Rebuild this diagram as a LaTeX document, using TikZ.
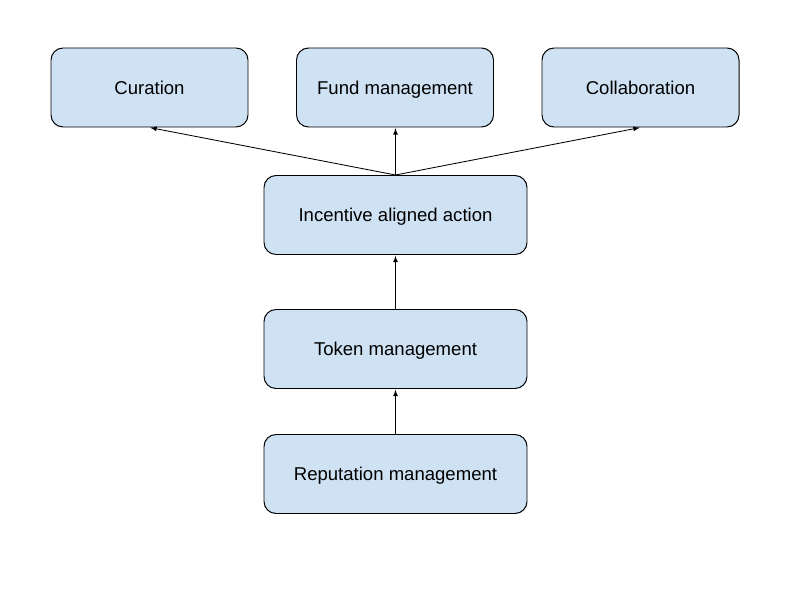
\documentclass[tikz,border=0pt]{standalone}
\usepackage{fontspec}
\setmainfont{Liberation Sans}
\usepackage{xcolor}
\usetikzlibrary{arrows}
\tikzset{>=latex}
\definecolor{boxblue}{HTML}{CFE2F3}
\tikzstyle{block}=[draw=black,fill=boxblue,rounded corners=0.3cm,line width=0.7pt,
  minimum height=1.975cm,inner sep=0pt,text height=12pt,text depth=2.5pt,
  font=\fontsize{13.2}{16}\selectfont]
\tikzstyle{arr}=[->,line width=0.6pt,shorten >=0.5pt]
\def\wsmall{4.925cm}
\def\wwide{6.575cm}

\begin{document}
\begin{tikzpicture}
      \useasboundingbox (0,0) rectangle (20,15);
      \def\xm{9.8875}
      \def\ytop{12.8125}
      
      % TOP ROW
      \node[block,minimum width=\wsmall] (cur) at (3.7375,\ytop) {Curation};
      \node[block,minimum width=\wsmall] (fund) at (9.875,\ytop) {Fund management};
      \node[block,minimum width=\wsmall] (coll) at (16.0125,\ytop) {Collaboration};
      
      % STACK
      \node[block,minimum width=\wwide] (inc) at (\xm,9.625) {Incentive aligned action};
      \node[block,minimum width=\wwide] (tok) at (\xm,6.275) {Token management};
      \node[block,minimum width=\wwide] (rep) at (\xm,3.15) {Reputation management};
      
      % ARROWS
      \draw[arr] (inc.north) -- (cur.south);
      \draw[arr] (inc.north) -- (fund.south -| inc.north);
      \draw[arr] (inc.north) -- (coll.south);
      \draw[arr] (tok) -- (inc);
      \draw[arr] (rep) -- (tok);
      
\end{tikzpicture}
\end{document}
